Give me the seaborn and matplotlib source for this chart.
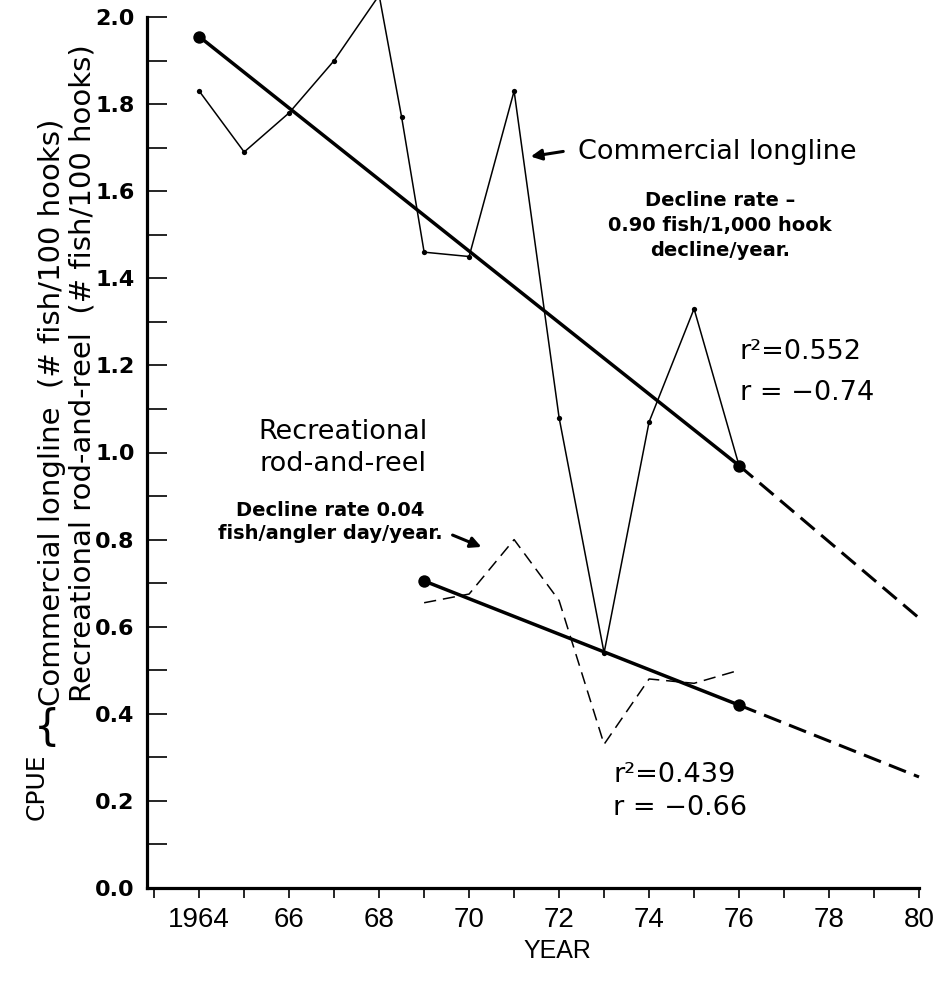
import matplotlib
matplotlib.use("Agg")
import matplotlib.pyplot as plt
import matplotlib.ticker as mticker
import seaborn as sns
import pandas as pd

# ---------------- data ----------------
comm_years = [1964, 1965, 1966, 1967, 1968, 1968.5, 1969, 1970, 1971, 1972, 1973, 1974, 1975, 1976]
comm_cpue = [1.83, 1.69, 1.78, 1.90, 2.05, 1.77, 1.46, 1.45, 1.83, 1.08, 0.54, 1.07, 1.33, 0.97]

rec_years = [1969, 1970, 1971, 1972, 1973, 1974, 1975, 1976]
rec_cpue = [0.655, 0.675, 0.80, 0.66, 0.33, 0.48, 0.47, 0.50]

comm_fit_years = [1964, 1976]
comm_fit_cpue = [1.955, 0.97]
comm_proj_years = [1976, 1980]
comm_proj_cpue = [0.97, 0.62]

rec_fit_years = [1969, 1976]
rec_fit_cpue = [0.705, 0.42]
rec_proj_years = [1976, 1980]
rec_proj_cpue = [0.42, 0.255]

year_ticks = list(range(1964, 1981, 2))
year_labels = ["1964", "66", "68", "70", "72", "74", "76", "78", "80"]
cpue_ticks = [0.0, 0.2, 0.4, 0.6, 0.8, 1.0, 1.2, 1.4, 1.6, 1.8, 2.0]

# ---------------- style ----------------
sns.set_style("white")
plt.rcParams["font.family"] = ["DejaVu Sans"]
for k in ("text.color", "axes.labelcolor", "xtick.color", "ytick.color", "axes.edgecolor"):
    plt.rcParams[k] = "black"

W, H = 939, 982
fig = plt.figure(figsize=(W / 100, H / 100), dpi=100)
ax = fig.add_axes([147 / W, 1 - 888 / H, (919 - 147) / W, (888 - 17) / H])

comm = pd.DataFrame({"year": comm_years, "cpue": comm_cpue})
rec = pd.DataFrame({"year": rec_years, "cpue": rec_cpue})

sns.lineplot(data=comm, x="year", y="cpue", ax=ax, color="black", lw=1.1,
             marker="o", markersize=3.8, markeredgewidth=0, sort=False)
sns.lineplot(data=rec, x="year", y="cpue", ax=ax, color="black", lw=1.1,
             linestyle=(0, (8, 4.5)), sort=False)

sns.lineplot(x=comm_fit_years, y=comm_fit_cpue, ax=ax, color="black", lw=2.5)
sns.lineplot(x=comm_proj_years, y=comm_proj_cpue, ax=ax, color="black", lw=2.2,
             linestyle=(0, (6, 2.8)))
sns.lineplot(x=rec_fit_years, y=rec_fit_cpue, ax=ax, color="black", lw=2.5)
sns.lineplot(x=rec_proj_years, y=rec_proj_cpue, ax=ax, color="black", lw=2.2,
             linestyle=(0, (6, 2.8)))

ends = pd.DataFrame({"year": [comm_fit_years[0], comm_fit_years[-1], rec_fit_years[0], rec_fit_years[-1]],
                     "cpue": [comm_fit_cpue[0], comm_fit_cpue[-1], rec_fit_cpue[0], rec_fit_cpue[-1]]})
sns.scatterplot(data=ends, x="year", y="cpue", ax=ax, color="black", s=80,
                edgecolor="black", linewidth=0, zorder=5)

for ln in ax.lines:
    ln.set_clip_on(False)

ax.set_xlim(1962.84, 1980)
ax.set_ylim(0, 2.0)

ax.set_xticks(year_ticks)
ax.set_xticklabels(year_labels)
ax.xaxis.set_minor_locator(mticker.MultipleLocator(1))
ax.set_yticks(cpue_ticks)
ax.yaxis.set_major_formatter(mticker.FormatStrFormatter("%.1f"))
ax.yaxis.set_minor_locator(mticker.MultipleLocator(0.1))

ax.tick_params(axis="x", which="both", direction="out", length=7.5, width=1.2,
               pad=6, labelsize=20, bottom=True, colors="black")
for lab in ax.get_xticklabels():
    lab.set_family("Liberation Sans")
ax.tick_params(axis="y", which="both", direction="in", length=14.5, width=1.2,
               pad=9, labelsize=16, left=True, colors="black")
for lab in ax.get_yticklabels():
    lab.set_fontweight("bold")

sns.despine(ax=ax)
for s in ("left", "bottom"):
    ax.spines[s].set_linewidth(2.3)
    ax.spines[s].set_color("black")

ax.set_xlabel("")
ax.set_ylabel("")

# ---------------- texts ----------------
def fx(px):
    return px / W

def fy(py):
    return 1 - py / H

fig.text(fx(557), fy(958), "YEAR", ha="center", va="baseline", fontsize=18,
         family="Liberation Sans")

# y-axis composite label
fig.text(fx(44), fy(820), "CPUE", rotation=90, rotation_mode="anchor",
         ha="left", va="baseline", fontsize=18)
fig.text(fx(47), fy(728), "{", ha="center", va="center", fontsize=30)
fig.text(fx(60), fy(706), "Commercial longline  (# fish/100 hooks)", rotation=90,
         rotation_mode="anchor", ha="left", va="baseline", fontsize=21)
fig.text(fx(90), fy(702), "Recreational rod-and-reel  (# fish/100 hooks)", rotation=90,
         rotation_mode="anchor", ha="left", va="baseline", fontsize=21)

# commercial annotations
fig.text(fx(578), fy(159), "Commercial longline", ha="left", va="baseline", fontsize=19.5)
ax.annotate("", xy=(528, H - 157), xycoords="figure pixels",
            xytext=(566, H - 151), textcoords="figure pixels",
            arrowprops=dict(arrowstyle="-|>", lw=2.2, color="black", mutation_scale=16))
fig.text(fx(720), fy(256), "Decline rate –\n0.90 fish/1,000 hook\ndecline/year.",
         ha="center", va="baseline", multialignment="center", fontsize=14,
         fontweight="bold", linespacing=1.4)
fig.text(fx(740), fy(359), "r²=0.552", ha="left", va="baseline", fontsize=19.5)
fig.text(fx(740), fy(400), "r = −0.74", ha="left", va="baseline", fontsize=19.5)

# recreational annotations
fig.text(fx(343), fy(471), "Recreational\nrod-and-reel", ha="center", va="baseline",
         multialignment="center", fontsize=19.5, linespacing=1.3)
fig.text(fx(330), fy(539), "Decline rate 0.04\nfish/angler day/year.", ha="center",
         va="baseline", multialignment="center", fontsize=14, fontweight="bold",
         linespacing=1.25)
ax.annotate("", xy=(484, H - 548), xycoords="figure pixels",
            xytext=(450, H - 534), textcoords="figure pixels",
            arrowprops=dict(arrowstyle="-|>", lw=2.2, color="black", mutation_scale=16))
fig.text(fx(613), fy(782), "r²=0.439", ha="left", va="baseline", fontsize=19.5)
fig.text(fx(613), fy(815), "r = −0.66", ha="left", va="baseline", fontsize=19.5)

fig.savefig("out.png", dpi=100, facecolor="white")
